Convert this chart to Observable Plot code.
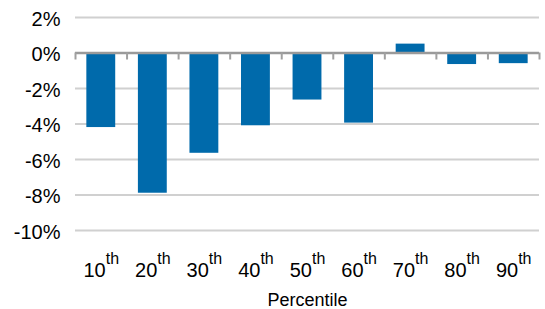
<!DOCTYPE html>
<html>
<head>
<meta charset="utf-8">
<script src="https://cdn.jsdelivr.net/npm/d3@7"></script>
<script src="https://cdn.jsdelivr.net/npm/@observablehq/plot@0.6"></script>
<style>
  html, body { margin: 0; padding: 0; background: #fff; }
  svg { font-family: "Liberation Sans", Arial, sans-serif; }
</style>
</head>
<body>
<div id="chart"></div>
<script>
const categories = ["10", "20", "30", "40", "50", "60", "70", "80", "90"];
const values = [-4.2, -7.9, -5.65, -4.1, -2.65, -3.95, 0.5, -0.65, -0.6];
const yTicks = [2, 0, -2, -4, -6, -8, -10];
const suffix = "th";
const xTitle = "Percentile";

const data = categories.map((c, i) => ({ cat: c, value: values[i] }));

const W = 545, H = 309, mL = 75, mR = 6, mT = 17, mB = 79;
const step = (W - mL - mR) / categories.length;
const boundaries = categories.map((c, i) => ({ cat: c, dx: -step / 2 }))
  .concat([{ cat: categories[categories.length - 1], dx: step / 2 }]);

const chart = Plot.plot({
  width: W,
  height: H,
  marginLeft: mL,
  marginRight: mR,
  marginTop: mT,
  marginBottom: mB,
  style: { fontFamily: '"Liberation Sans", Arial, sans-serif', color: "#000", background: "#fff" },
  x: { domain: categories, paddingInner: 0.44, paddingOuter: 0.22, round: false, axis: null },
  y: { domain: [-10, 2], axis: null },
  marks: [
    Plot.gridY(yTicks, { stroke: "#d0d0d0", strokeOpacity: 1, strokeWidth: 2 }),
    Plot.barY(data, { x: "cat", y: "value", fill: "#006AAB" }),
    Plot.ruleY([0], { stroke: "#9a9a9a", strokeWidth: 2.5 }),
    ...boundaries.map(b => Plot.ruleX([b], { x: "cat", y1: 0, y2: 0, dx: b.dx, insetBottom: -7, stroke: "#a0a0a0", strokeWidth: 2 })),
    Plot.axisY(yTicks, { tickSize: 0, tickPadding: 15, fontSize: 20, dy: 2, tickFormat: d => `${d}%`, label: null }),
    Plot.axisX({ tickSize: 0, tickPadding: 32, fontSize: 20, label: null, tickFormat: d => d }),
    Plot.text([xTitle], { frameAnchor: "bottom", dy: 70, lineAnchor: "middle", fontSize: 18, fill: "#000" })
  ]
});

document.getElementById("chart").appendChild(chart);

// add superscript suffix to x tick labels
d3.select(chart).selectAll('g[aria-label="x-axis tick label"] text').each(function () {
  d3.select(this).append("tspan")
    .attr("dy", -13)
    .attr("font-size", 16)
    .text(suffix);
});
</script>
</body>
</html>
